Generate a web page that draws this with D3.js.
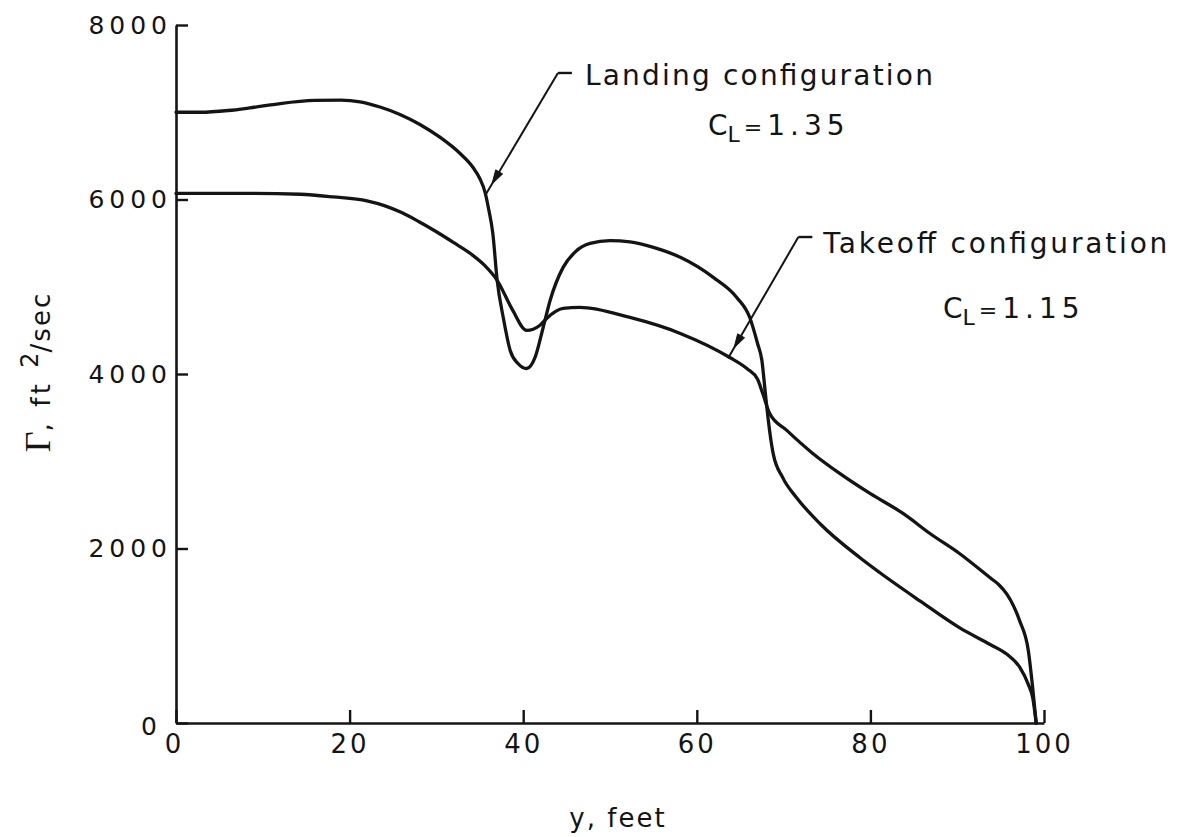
<!DOCTYPE html>
<html><head><meta charset="utf-8">
<script src="https://cdn.jsdelivr.net/npm/d3@7"></script>
<style>body{margin:0;background:#fff;} svg{display:block;}</style>
</head><body><svg id="chart" width="1186" height="837"></svg>
<script>
// ---- data ----
const xTicks = [0, 20, 40, 60, 80, 100];
const yTicks = [0, 2000, 4000, 6000, 8000];
const xLabel = "y, feet";

const landingX = [0, 2.8, 6, 8.5, 12, 16, 19, 21.2, 23.5, 25.8, 28.1, 30.4, 32.7, 34.2, 35.0, 35.6, 36.0, 36.5, 37.0, 37.7, 38.5, 39.4, 40.4, 41.4, 42.3, 43.1, 44.6, 46.0, 47.7, 50.0, 52.3, 55.2, 58.1, 61.9, 64.6, 66.1, 67.0, 67.5, 67.9, 68.2, 68.8, 69.9, 71.5, 74.2, 78.8, 81.1, 85.7, 90.3, 93.8, 95.7, 97.2, 98.2, 98.7, 99.1];
const landingG = [7000, 7000, 7020, 7050, 7100, 7135, 7140, 7120, 7060, 6975, 6860, 6714, 6530, 6370, 6240, 6085, 5900, 5612, 5073, 4648, 4270, 4120, 4063, 4200, 4533, 4843, 5222, 5400, 5497, 5528, 5515, 5445, 5337, 5107, 4878, 4648, 4350, 4155, 3776, 3500, 3087, 2812, 2582, 2284, 1894, 1722, 1400, 1090, 900, 790, 640, 440, 290, 0];

const takeoffX = [0, 8.5, 14.3, 18.1, 22.0, 24.0, 26.0, 28.0, 30.0, 32.0, 34.0, 35.5, 37.0, 38.8, 40.4, 41.9, 42.7, 44.6, 46.5, 52.3, 58.1, 63.8, 65.8, 67.0, 67.6, 68.4, 70.4, 73.4, 76.5, 80.0, 83.8, 86.9, 90.3, 93.8, 94.8, 95.7, 96.5, 97.2, 98.2, 98.7, 99.1];
const takeoffG = [6070, 6070, 6060, 6030, 5985, 5930, 5850, 5745, 5630, 5505, 5375, 5250, 5073, 4729, 4499, 4556, 4637, 4751, 4763, 4648, 4465, 4189, 4060, 3940, 3776, 3546, 3351, 3087, 2858, 2628, 2399, 2169, 1940, 1664, 1585, 1480, 1340, 1170, 826, 400, 0];

const seriesNames = ["Landing configuration", "Takeoff configuration"];
const seriesCL = ["1.35", "1.15"];
// annotation anchors in data units: [arrow target x, target Γ, elbow x, elbow Γ]
const landingNote = [35.7, 6060, 44.0, 7450];
const takeoffNote = [63.6, 4180, 71.7, 5570];

// ---- drawing ----
const svg = d3.select("#chart");
const FONT = "'DejaVu Sans', sans-serif";
const INK = "#141414";

const x = d3.scaleLinear().domain([0, 100]).range([176, 1044]);
const y = d3.scaleLinear().domain([0, 8000]).range([723, 25]);

// axes
const yAxis = svg.append("g").attr("transform", `translate(${x(0)},0)`)
  .call(d3.axisLeft(y).tickValues(yTicks).tickSizeInner(-12).tickSizeOuter(0).tickPadding(4).tickFormat(d => d));
const xAxis = svg.append("g").attr("transform", `translate(0,${y(0)})`)
  .call(d3.axisBottom(x).tickValues(xTicks).tickSizeInner(-13).tickSizeOuter(0).tickPadding(12).tickFormat(d => d));

[yAxis, xAxis].forEach(g => {
  g.select(".domain").attr("stroke", INK).attr("stroke-width", 2.6);
  g.selectAll(".tick line").attr("stroke", INK).attr("stroke-width", 2.4);
  g.selectAll(".tick text").attr("fill", INK).style("font-family", FONT);
});
yAxis.selectAll(".tick text").style("font-size", "25px").style("letter-spacing", "5px");
xAxis.selectAll(".tick text").style("font-size", "26px").style("letter-spacing", "3px");
// origin labels offset like the reference
yAxis.selectAll(".tick").filter(d => d === 0).select("text").attr("x", -14).attr("dy", "0.45em");
xAxis.selectAll(".tick").filter(d => d === 0).select("text").attr("x", -2);

// curves
const line = d3.line().x(d => x(d[0])).y(d => y(d[1])).curve(d3.curveMonotoneX);
const landing = landingX.map((v, i) => [v, landingG[i]]);
const takeoff = takeoffX.map((v, i) => [v, takeoffG[i]]);
[landing, takeoff].forEach(s => {
  svg.append("path").datum(s).attr("d", line)
    .attr("fill", "none").attr("stroke", INK).attr("stroke-width", 3.3)
    .attr("stroke-linejoin", "round").attr("stroke-linecap", "round");
});

// axis titles
const yl = svg.append("text").attr("transform", `translate(50,372) rotate(-90)`)
  .attr("text-anchor", "middle").attr("fill", INK).style("font-family", FONT).style("font-size", "26px");
yl.append("tspan").text("Γ").style("font-family", "'Liberation Serif', serif").style("font-size", "36px");
yl.append("tspan").text(", ft ").style("letter-spacing", "4px");
yl.append("tspan").attr("dy", -12).style("font-size", "24px").text("2");
yl.append("tspan").attr("dy", 12).text("/sec").style("letter-spacing", "2px");

svg.append("text").attr("x", 618).attr("y", 827).attr("text-anchor", "middle")
  .attr("fill", INK).style("font-family", FONT).style("font-size", "26px").style("letter-spacing", "2px").text(xLabel);

// annotations
function note(n, name, cl, txtDx, txtDy, textLen, clX, clY) {
  const tx = x(n[0]), ty = y(n[1]), ex = x(n[2]), ey = y(n[3]);
  const g = svg.append("g").attr("stroke", INK).attr("fill", INK);
  g.append("line").attr("x1", ex).attr("y1", ey).attr("x2", ex + 14).attr("y2", ey).attr("stroke-width", 2.4);
  g.append("line").attr("x1", ex).attr("y1", ey).attr("x2", tx).attr("y2", ty).attr("stroke-width", 2);
  // arrowhead
  const dx = tx - ex, dy = ty - ey, L = Math.hypot(dx, dy), ux = dx / L, uy = dy / L;
  const tipX = tx - ux * 12, tipY = ty - uy * 12;
  const bx = tipX - ux * 14, by = tipY - uy * 14;
  g.append("path").attr("d", `M${tipX},${tipY}L${bx - uy * 4},${by + ux * 4}L${bx + uy * 4},${by - ux * 4}Z`).attr("stroke-width", 1);
  svg.append("text").attr("x", ex + txtDx).attr("y", ey + txtDy).attr("fill", INK)
    .attr("textLength", textLen).attr("lengthAdjust", "spacing")
    .style("font-family", FONT).style("font-size", "28px").text(name);
  const c = svg.append("text").attr("x", clX).attr("y", clY).attr("fill", INK)
    .style("font-family", FONT).style("font-size", "28px");
  c.append("tspan").text("C");
  c.append("tspan").attr("dy", 7).style("font-size", "22px").text("L");
  c.append("tspan").attr("dy", -7).attr("dx", 4).style("font-size", "22px").text("=");
  c.append("tspan").attr("dx", 5).style("letter-spacing", "5px").text(cl);
}
note(landingNote, seriesNames[0], seriesCL[0], 27, 12, 348, 708, 135);
note(takeoffNote, seriesNames[1], seriesCL[1], 25, 16, 344, 943, 318);
</script>
</body></html>
